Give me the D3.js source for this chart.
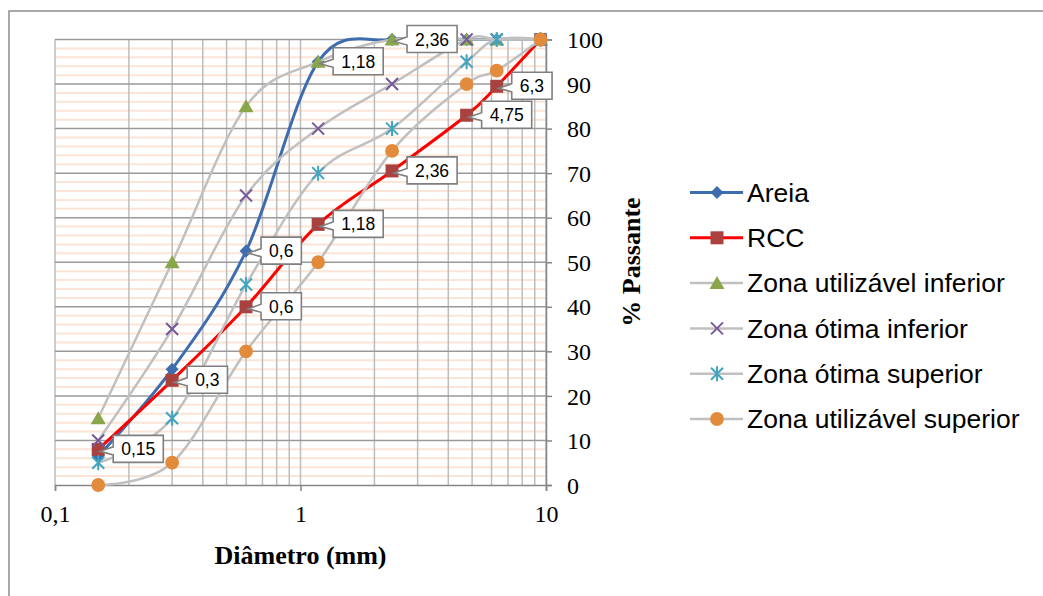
<!DOCTYPE html>
<html>
<head>
<meta charset="utf-8">
<script src="https://cdn.jsdelivr.net/npm/d3@7"></script>
<style>
  body { margin: 0; background: #fff; }
  svg { display: block; }
</style>
</head>
<body>
<div id="chart"></div>
<script>
// sieve openings (mm) and % passing for each series
const sieves = [0.15, 0.3, 0.6, 1.18, 2.36, 4.75, 6.3, 9.5];
const areia = [6.5, 26, 52.5, 95, 100, 100, 100, 100];
const rcc = [8, 23.5, 40, 58.5, 70.5, 83, 89.5, 100];
const zonaUtilInf = [15, 50, 85, 95, 100, 100, 100, 100];
const zonaOtimaInf = [10, 35, 65, 80, 90, 100, 100, 100];
const zonaOtimaSup = [5, 15, 45, 70, 80, 95, 100, 100];
const zonaUtilSup = [0, 5, 30, 50, 75, 90, 93, 100];

const seriesNames = ["Areia", "RCC", "Zona utilizável inferior", "Zona ótima inferior",
    "Zona ótima superior", "Zona utilizável superior"];

const xTicks = [0.1, 1, 10];
const xTickLabels = ["0,1", "1", "10"];
const yTicks = d3.range(0, 101, 10);

// which points carry a data label (the sieve size)
const areiaLabelAt = [0.6, 1.18, 2.36];
const rccLabelAt = [0.15, 0.3, 0.6, 1.18, 2.36, 4.75, 6.3];

const width = 1043, height = 596;
const plot = { left: 55, right: 546, top: 39.5, bottom: 485 };

const svg = d3.select("#chart").append("svg")
    .attr("width", width)
    .attr("height", height);

// chart frame
svg.append("rect")
    .attr("x", 9).attr("y", 11)
    .attr("width", 1200).attr("height", 800)
    .attr("fill", "none")
    .attr("stroke", "#8c8c8c")
    .attr("stroke-width", 1.5);

const x = d3.scaleLog().domain([0.1, 10]).range([plot.left, plot.right]);
const y = d3.scaleLinear().domain([0, 100]).range([plot.bottom, plot.top]);

const grid = svg.append("g");

// minor horizontal gridlines (every 2%)
grid.selectAll("line.hminor")
    .data(d3.range(2, 100, 2).filter(v => v % 10 !== 0))
    .enter().append("line")
    .attr("x1", plot.left).attr("x2", plot.right)
    .attr("y1", d => y(d)).attr("y2", d => y(d))
    .attr("stroke", "#fce4d6")
    .attr("stroke-width", 2);

// vertical log gridlines
const vlines = [];
for (let dec of [0.1, 1]) {
    for (let k = 1; k <= 9; k++) vlines.push(dec * k);
}
vlines.push(10);
grid.selectAll("line.v")
    .data(vlines)
    .enter().append("line")
    .attr("x1", d => x(d)).attr("x2", d => x(d))
    .attr("y1", plot.top).attr("y2", plot.bottom)
    .attr("stroke", "#bdbdbd")
    .attr("stroke-width", 1.5);

// major horizontal gridlines
grid.selectAll("line.hmajor")
    .data(yTicks.filter(v => v > 0))
    .enter().append("line")
    .attr("x1", plot.left).attr("x2", plot.right)
    .attr("y1", d => y(d)).attr("y2", d => y(d))
    .attr("stroke", "#9a9a9a")
    .attr("stroke-width", 1.5);

// axes
const yAxis = d3.axisRight(y).tickValues(yTicks).tickSize(6).tickPadding(15).tickFormat(d3.format("d"));
const yg = svg.append("g")
    .attr("transform", `translate(${plot.right},0)`)
    .call(yAxis);
yg.select(".domain").attr("stroke", "#868686").attr("stroke-width", 1.5);
yg.selectAll(".tick line").attr("stroke", "#868686").attr("stroke-width", 1.5);
yg.selectAll(".tick text")
    .attr("font-family", "Liberation Serif, Times New Roman, serif")
    .attr("font-size", 24)
    .attr("fill", "#000")
    .attr("dy", "0.34em");

const xAxis = d3.axisBottom(x).tickValues(xTicks).tickSize(6).tickPadding(14)
    .tickFormat((d, i) => xTickLabels[i]);
const xg = svg.append("g")
    .attr("transform", `translate(0,${plot.bottom})`)
    .call(xAxis);
xg.select(".domain").attr("stroke", "#868686").attr("stroke-width", 1.5);
xg.selectAll(".tick line").attr("stroke", "#868686").attr("stroke-width", 1.5);
xg.selectAll(".tick text")
    .attr("font-family", "Liberation Serif, Times New Roman, serif")
    .attr("font-size", 24)
    .attr("fill", "#000");

// axis titles
svg.append("text")
    .attr("x", (plot.left + plot.right) / 2).attr("y", 564)
    .attr("text-anchor", "middle")
    .attr("font-family", "Liberation Serif, Times New Roman, serif")
    .attr("font-weight", "bold")
    .attr("font-size", 26)
    .text("Diâmetro (mm)");

svg.append("text")
    .attr("transform", "translate(640,262) rotate(-90)")
    .attr("text-anchor", "middle")
    .attr("font-family", "Liberation Serif, Times New Roman, serif")
    .attr("font-weight", "bold")
    .attr("font-size", 26)
    .text("% Passante");

// marker shapes
const markerPath = {
    diamond: "M0,-6.5L6.5,0L0,6.5L-6.5,0Z",
    square: "M-6.5,-6.5H6.5V6.5H-6.5Z",
    triangle: "M0,-7L7.5,6L-7.5,6Z",
    cross: "M-6,-6L6,6M-6,6L6,-6",
    star: "M-6,-6L6,6M-6,6L6,-6M0,-7.5V7.5",
    circle: d3.symbol(d3.symbolCircle, 150)()
};

const series = [
    { name: seriesNames[0], values: areia, line: "#3e6daf", lw: 3, mark: "diamond", color: "#3e6daf" },
    { name: seriesNames[1], values: rcc, line: "#ff0000", lw: 3, mark: "square", color: "#a9423f" },
    { name: seriesNames[2], values: zonaUtilInf, line: "#c0c0c0", lw: 2.5, mark: "triangle", color: "#8aa64b" },
    { name: seriesNames[3], values: zonaOtimaInf, line: "#c0c0c0", lw: 2.5, mark: "cross", color: "#75599a" },
    { name: seriesNames[4], values: zonaOtimaSup, line: "#c0c0c0", lw: 2.5, mark: "star", color: "#41a4c0" },
    { name: seriesNames[5], values: zonaUtilSup, line: "#c0c0c0", lw: 2.5, mark: "circle", color: "#e38b3c" }
];

function drawMarker(sel, s) {
    const stroked = s.mark === "cross" || s.mark === "star";
    sel.append("path")
        .attr("d", markerPath[s.mark])
        .attr("fill", stroked ? "none" : s.color)
        .attr("stroke", stroked ? s.color : "none")
        .attr("stroke-width", stroked ? 2 : 0);
}

const line = d3.line()
    .x(d => x(d[0]))
    .y(d => y(d[1]))
    .curve(d3.curveCatmullRom.alpha(0));

series.forEach(s => {
    const pts = sieves.map((v, i) => [v, s.values[i]]);
    const g = svg.append("g");
    g.append("path")
        .datum(pts)
        .attr("d", line)
        .attr("fill", "none")
        .attr("stroke", s.line)
        .attr("stroke-width", s.lw)
        .attr("stroke-linejoin", "round");
    g.selectAll("g.m")
        .data(pts)
        .enter().append("g")
        .attr("transform", d => `translate(${x(d[0])},${y(d[1])})`)
        .each(function () { drawMarker(d3.select(this), s); });
});

// callout data labels
const fmt = v => String(v).replace(".", ",");
const labelData = [
    ...areiaLabelAt.map(v => [v, areia[sieves.indexOf(v)]]),
    ...rccLabelAt.map(v => [v, rcc[sieves.indexOf(v)]])
];
const labels = svg.append("g");
labelData.forEach(([sv, val]) => {
    const px = x(sv), py = y(val);
    const g = labels.append("g");
    const t = g.append("text")
        .attr("font-family", "Liberation Sans, Arial, sans-serif")
        .attr("font-size", 17.5)
        .attr("dominant-baseline", "central")
        .text(fmt(sv));
    const tw = t.node().getComputedTextLength();
    const w = tw + 16, h = 27;
    const bx = px + 15, by = py - h / 2 - 0.5;
    const cy = by + h / 2;
    g.insert("path", "text")
        .attr("d", `M${bx},${by}H${bx + w}V${by + h}H${bx}V${cy + 6}L${px + 2},${py + 2}L${bx},${cy - 2}Z`)
        .attr("fill", "#fff")
        .attr("stroke", "#7f7f7f")
        .attr("stroke-width", 1.6)
        .attr("stroke-linejoin", "miter");
    t.attr("x", bx + w / 2).attr("y", cy + 0.5).attr("text-anchor", "middle");
});

// legend
const legend = svg.append("g");
series.forEach((s, i) => {
    const ly = 192.5 + i * 45.3;
    const g = legend.append("g");
    g.append("line")
        .attr("x1", 690).attr("x2", 743)
        .attr("y1", ly).attr("y2", ly)
        .attr("stroke", s.line)
        .attr("stroke-width", s.lw);
    const m = g.append("g").attr("transform", `translate(717,${ly})`);
    drawMarker(m, s);
    g.append("text")
        .attr("x", 747).attr("y", ly)
        .attr("dy", "0.35em")
        .attr("font-family", "Liberation Sans, Arial, sans-serif")
        .attr("font-size", 26.5)
        .text(s.name);
});
</script>
</body>
</html>
